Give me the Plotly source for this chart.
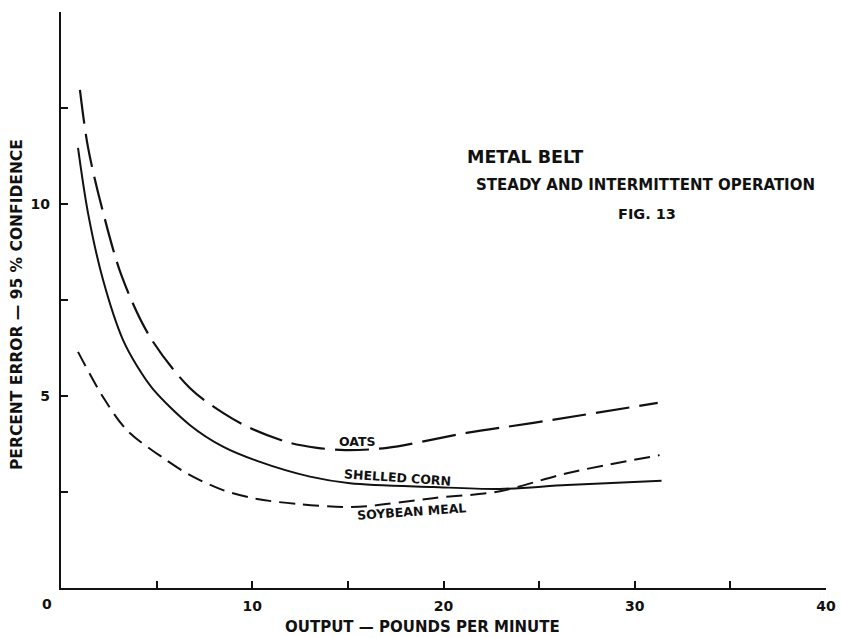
import plotly.graph_objects as go

# Data (x = output lb/min, y = percent error)
oats_x = [0.99, 1.41, 2.14, 3.19, 4.65, 6.75, 8.47, 9.88, 11.97, 13.39, 14.85, 17.05, 21.2, 24.7, 31.2]
oats_y = [12.97, 11.48, 9.90, 8.10, 6.54, 5.20, 4.56, 4.17, 3.78, 3.65, 3.59, 3.65, 4.04, 4.30, 4.82]

corn_x = [0.89, 1.41, 2.20, 3.24, 4.0, 4.81, 6.75, 8.47, 10.25, 13.02, 15.11, 19.45, 22.95, 26.46, 31.4]
corn_y = [11.46, 9.77, 8.02, 6.46, 5.76, 5.18, 4.24, 3.68, 3.31, 2.90, 2.73, 2.63, 2.58, 2.68, 2.79]

soy_x = [0.89, 2.20, 3.45, 5.33, 6.75, 8.47, 10.25, 12.5, 14.75, 16.0, 19.45, 22.95, 26.46, 31.3]
soy_y = [6.15, 4.97, 4.11, 3.39, 2.94, 2.55, 2.32, 2.18, 2.11, 2.13, 2.34, 2.52, 2.99, 3.46]

x_tickvals = [0, 5, 10, 15, 20, 25, 30, 35, 40]
x_ticktext = ["", "", "10", "", "20", "", "30", "", "40"]
y_tickvals = [0, 2.5, 5, 7.5, 10, 12.5, 15]
y_ticktext = ["", "", "5", "", "10", "", ""]

FONT = "DejaVu Sans"
INK = "#111111"

fig = go.Figure()
fig.add_trace(go.Scatter(x=oats_x, y=oats_y, mode="lines", name="OATS",
                         line=dict(color=INK, width=2.2, dash="34px,10px", shape="spline", smoothing=0.9)))
fig.add_trace(go.Scatter(x=corn_x, y=corn_y, mode="lines", name="SHELLED CORN",
                         line=dict(color=INK, width=2.0, shape="spline", smoothing=0.9)))
fig.add_trace(go.Scatter(x=soy_x, y=soy_y, mode="lines", name="SOYBEAN MEAL",
                         line=dict(color=INK, width=2.0, dash="16px,8px", shape="spline", smoothing=0.9)))

fig.update_layout(
    width=841, height=638,
    margin=dict(l=61, r=15, t=12, b=50, autoexpand=False),
    paper_bgcolor="white", plot_bgcolor="white",
    showlegend=False,
    font=dict(family=FONT, color=INK),
)
fig.update_xaxes(range=[0, 40], tickvals=x_tickvals, ticktext=["<b>%s</b>" % t if t else "" for t in x_ticktext],
                 ticks="inside", ticklen=7, tickwidth=2, tickcolor=INK, automargin=False,
                 showline=True, linewidth=2.2, linecolor=INK, showgrid=False, zeroline=False,
                 tickfont=dict(family=FONT, size=14, color=INK), ticklabelstandoff=4)
fig.update_yaxes(range=[0, 15], tickvals=y_tickvals, ticktext=["<b>%s</b>" % t if t else "" for t in y_ticktext],
                 ticks="inside", ticklen=7, tickwidth=2, tickcolor=INK, automargin=False,
                 showline=True, linewidth=2.2, linecolor=INK, showgrid=False, zeroline=False,
                 tickfont=dict(family=FONT, size=14, color=INK), ticklabelstandoff=6)

def ann(text, x, y, size, xref="paper", yref="paper", xanchor="center", yanchor="middle", angle=0):
    fig.add_annotation(text=text, x=x, y=y, xref=xref, yref=yref, showarrow=False,
                       xanchor=xanchor, yanchor=yanchor, textangle=angle,
                       font=dict(family=FONT, size=size, color=INK))

W, H = 841, 638
L, R, T, B = 61, 15, 12, 50
pw, ph = W - L - R, H - T - B
def px(xp):
    return (xp - L) / pw
def py(yp):
    return (H - B - yp) / ph

# origin label
ann("<b>0</b>", px(47), py(604), 14)
# axis titles
ann("<b>OUTPUT — POUNDS PER MINUTE</b>", px(422), py(627), 15)
ann("<b>PERCENT ERROR — 95 % CONFIDENCE</b>", px(17), py(305), 15.5, angle=-90)
# chart title block
ann("<b>METAL BELT</b>", px(465), py(157), 17.5, xanchor="left")
ann("<b>STEADY AND INTERMITTENT OPERATION</b>", px(645), py(185), 15)
ann("<b>FIG. 13</b>", px(647), py(214), 14.5)
# curve labels
ann("<b>OATS</b>", 15.48, 3.82, 12.5, xref="x", yref="y")
ann("<b>SHELLED CORN</b>", 17.57, 2.88, 12.5, xref="x", yref="y", angle=4)
ann("<b>SOYBEAN MEAL</b>", 18.35, 1.98, 12.5, xref="x", yref="y", angle=-4)

fig.write_html("out.html", post_script="document.body.style.margin='0';",
               config={"displayModeBar": False})
